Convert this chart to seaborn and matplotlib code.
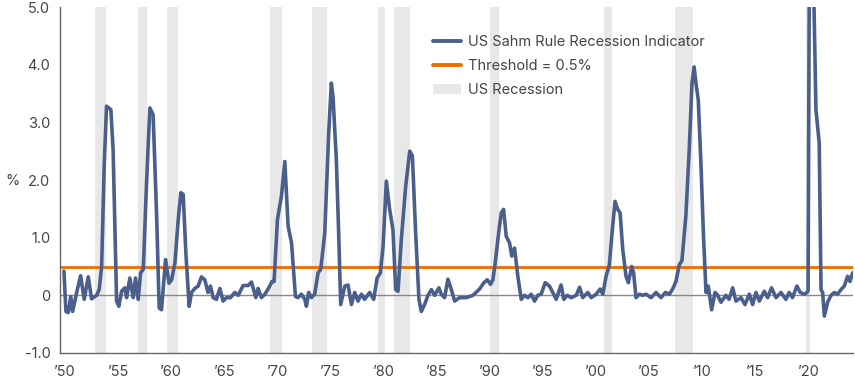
import pandas as pd
import matplotlib.pyplot as plt
import seaborn as sns
from matplotlib.lines import Line2D
from matplotlib.patches import Patch

# valores (año decimal, %)
years = [
    1949.90, 1950.09, 1950.31, 1950.54, 1950.72, 1951.10, 1951.47, 1951.81, 1952.19, 1952.50,
    1952.98, 1953.22, 1953.45, 1953.69, 1953.91, 1954.32, 1954.53, 1954.86, 1955.07, 1955.33,
    1955.64, 1955.80, 1956.11, 1956.42, 1956.64, 1956.89, 1957.12, 1957.37, 1957.68, 1957.99,
    1958.30, 1958.63, 1958.87, 1959.09, 1959.47, 1959.79, 1960.04, 1960.35, 1960.66, 1960.91,
    1961.13, 1961.38, 1961.69, 1961.92, 1962.23, 1962.54, 1962.85, 1963.16, 1963.47, 1963.70,
    1963.95, 1964.26, 1964.58, 1964.89, 1965.20, 1965.58, 1965.99, 1966.31, 1966.77, 1967.24,
    1967.56, 1967.97, 1968.18, 1968.50, 1968.82, 1969.13, 1969.50, 1969.69, 1970.00, 1970.38,
    1970.70, 1971.01, 1971.33, 1971.70, 1971.94, 1972.26, 1972.58, 1972.73, 1972.95, 1973.20,
    1973.51, 1973.83, 1974.08, 1974.46, 1974.83, 1975.08, 1975.24, 1975.55, 1975.77, 1975.96,
    1976.34, 1976.65, 1976.97, 1977.28, 1977.59, 1977.91, 1978.21, 1978.69, 1979.07, 1979.39,
    1979.70, 1979.95, 1980.26, 1980.57, 1980.88, 1981.14, 1981.36, 1981.67, 1982.08, 1982.46,
    1982.71, 1983.02, 1983.33, 1983.55, 1983.86, 1984.18, 1984.50, 1984.81, 1985.21, 1985.43,
    1985.74, 1986.06, 1986.38, 1986.69, 1987.15, 1987.79, 1988.41, 1989.04, 1989.45, 1989.76,
    1990.07, 1990.29, 1990.51, 1990.83, 1991.08, 1991.30, 1991.55, 1991.86, 1992.07, 1992.33,
    1992.64, 1992.96, 1993.27, 1993.59, 1993.90, 1994.21, 1994.52, 1994.84, 1995.22, 1995.62,
    1995.93, 1996.25, 1996.71, 1996.97, 1997.28, 1997.66, 1998.14, 1998.45, 1998.76, 1999.23,
    1999.55, 2000.02, 2000.39, 2000.64, 2000.95, 2001.26, 2001.51, 2001.79, 2002.05, 2002.27,
    2002.52, 2002.83, 2003.05, 2003.36, 2003.54, 2003.77, 2004.09, 2004.40, 2004.71, 2005.19,
    2005.65, 2006.12, 2006.54, 2006.91, 2007.22, 2007.53, 2007.84, 2008.09, 2008.46, 2008.78,
    2009.04, 2009.24, 2009.41, 2009.63, 2009.89, 2010.11, 2010.36, 2010.57, 2010.89, 2011.21,
    2011.46, 2011.77, 2012.23, 2012.53, 2012.87, 2013.18, 2013.65, 2014.03, 2014.44, 2014.75,
    2015.07, 2015.38, 2015.85, 2016.16, 2016.53, 2016.95, 2017.42, 2017.88, 2018.19, 2018.50,
    2018.92, 2019.23, 2019.61, 2019.87, 2019.97, 2020.05, 2020.13, 2020.22, 2020.40, 2020.53,
    2020.71, 2021.02, 2021.19, 2021.34, 2021.50, 2021.81, 2022.13, 2022.44, 2022.75, 2023.07,
    2023.38, 2023.69, 2023.92, 2024.16,
]
sahm = [
    0.42, -0.28, -0.30, -0.02, -0.28, 0.05, 0.34, -0.07, 0.32, -0.06,
    0.00, 0.10, 0.50, 2.24, 3.28, 3.22, 2.53, -0.10, -0.19, 0.07,
    0.13, -0.04, 0.30, -0.04, 0.30, -0.07, 0.39, 0.45, 1.95, 3.25,
    3.13, 1.37, -0.22, -0.25, 0.62, 0.21, 0.27, 0.56, 1.31, 1.78,
    1.75, 0.74, -0.19, 0.05, 0.12, 0.16, 0.32, 0.27, 0.05, 0.16,
    -0.04, -0.07, 0.12, -0.10, -0.04, -0.04, 0.05, 0.00, 0.17, 0.17,
    0.23, -0.04, 0.12, -0.04, 0.02, 0.11, 0.24, 0.24, 1.31, 1.72,
    2.32, 1.20, 0.91, -0.02, -0.04, 0.02, -0.07, -0.19, 0.05, -0.04,
    0.02, 0.39, 0.45, 1.08, 2.81, 3.68, 3.44, 2.35, 1.08, -0.16,
    0.16, 0.18, -0.16, 0.05, -0.10, 0.02, -0.07, 0.05, -0.07, 0.30,
    0.39, 0.85, 1.98, 1.49, 1.14, 0.10, 0.07, 0.97, 1.89, 2.50,
    2.42, 1.08, -0.07, -0.28, -0.16, 0.00, 0.10, 0.00, 0.13, 0.02,
    -0.04, 0.28, 0.10, -0.10, -0.04, -0.04, 0.00, 0.11, 0.22, 0.27,
    0.19, 0.27, 0.56, 1.08, 1.43, 1.49, 1.02, 0.91, 0.68, 0.82,
    0.33, -0.07, 0.00, -0.04, 0.02, -0.10, 0.00, 0.02, 0.22, 0.16,
    0.05, -0.07, 0.18, -0.07, 0.00, -0.04, 0.00, 0.14, -0.04, 0.05,
    -0.04, 0.02, 0.11, 0.02, 0.33, 0.53, 1.08, 1.63, 1.49, 1.43,
    0.79, 0.33, 0.22, 0.50, 0.39, -0.04, 0.02, 0.00, 0.02, -0.04,
    0.05, -0.04, 0.05, 0.02, 0.11, 0.24, 0.53, 0.60, 1.37, 2.53,
    3.68, 3.96, 3.68, 3.39, 2.24, 1.08, 0.05, 0.16, -0.25, 0.05,
    0.00, -0.12, 0.00, -0.07, 0.13, -0.10, -0.04, -0.16, 0.02, -0.16,
    0.05, -0.10, 0.07, -0.04, 0.13, -0.04, 0.05, -0.07, 0.05, -0.04,
    0.16, 0.05, 0.02, 0.05, 0.08, 4.00, 7.20, 9.50, 8.00, 5.00,
    3.22, 2.64, 0.10, 0.05, -0.36, -0.12, 0.00, 0.05, 0.02, 0.10,
    0.16, 0.33, 0.24, 0.39,
]

threshold = 0.5

rec_start = [1952.82, 1956.90, 1959.57, 1969.29, 1973.27, 1979.45, 1980.98, 1989.98, 2000.73, 2007.48, 2019.77]
rec_end = [1953.86, 1957.74, 1960.60, 1970.39, 1974.71, 1980.10, 1982.46, 1990.83, 2001.52, 2009.17, 2020.15]

tick_years = [1950, 1955, 1960, 1965, 1970, 1975, 1980, 1985, 1990, 1995, 2000, 2005, 2010, 2015, 2020]
tick_labels = ["’50", "’55", "’60", "’65", "’70", "’75", "’80", "’85", "’90", "’95",
               "’00", "’05", "’10", "’15", "’20"]
ytick_vals = [-1, 0, 1, 2, 3, 4, 5]
ytick_labels = ["-1.0", "0", "1.0", "2.0", "3.0", "4.0", "5.0"]

df = pd.DataFrame({"fecha": years, "sahm": sahm})

sns.set_theme(style="white")
plt.rcParams["font.family"] = ["Inter", "DejaVu Sans"]

azul = "#4b5f8c"
naranja = "#f26a00"
gris_rec = "#e8e8e8"
texto = "#444444"
eje = "#666666"

fig = plt.figure(figsize=(8.55, 3.83), dpi=100)
ax = fig.add_axes([60 / 855, 1 - 353 / 383, 793 / 855, 346 / 383])

for a, b in zip(rec_start, rec_end):
    ax.axvspan(a, b, color=gris_rec, lw=0, zorder=0)

ax.axhline(0, color="#888888", lw=1, zorder=1)
ax.axhline(threshold, color=naranja, lw=2.0, zorder=2)
sns.lineplot(data=df, x="fecha", y="sahm", ax=ax, color=azul, lw=2.6, zorder=3)
for ln in ax.get_lines():
    ln.set_solid_joinstyle("round")
    ln.set_solid_capstyle("round")

ax.set_xlim(1949.53, 2024.2)
ax.set_ylim(-1, 5)
ax.set_xticks(tick_years)
ax.set_xticklabels(tick_labels)
ax.set_xticks(list(range(1950, 2025)), minor=True)
ax.set_yticks(ytick_vals)
ax.set_yticklabels(ytick_labels)
ax.set_xlabel("")
ax.set_ylabel("")

for s in ["top", "right"]:
    ax.spines[s].set_visible(False)
for s in ["left", "bottom"]:
    ax.spines[s].set_color(eje)
    ax.spines[s].set_linewidth(1)

ax.tick_params(axis="both", which="both", direction="out", color=eje, width=1,
               labelsize=10.5, labelcolor=texto)
ax.tick_params(axis="x", which="both", length=5, pad=4)
ax.tick_params(axis="y", length=4, pad=3)

fig.text(5 / 855, 1 - 181 / 383, "%", fontsize=10.5, color=texto, va="center", ha="left")

handles = [
    Line2D([0], [0], color=azul, lw=2.8, solid_capstyle="round"),
    Line2D([0], [0], color=naranja, lw=2.8, solid_capstyle="round"),
    Patch(facecolor=gris_rec, edgecolor="none"),
]
labels = ["US Sahm Rule Recession Indicator", "Threshold = 0.5%", "US Recession"]
ax.legend(handles, labels, loc="upper left", bbox_to_anchor=(0.463, 0.935), frameon=False,
          fontsize=10.5, labelcolor=texto, handlelength=1.9, handletextpad=0.5,
          labelspacing=0.68, borderaxespad=0)

plt.savefig("out.png", dpi=100)
